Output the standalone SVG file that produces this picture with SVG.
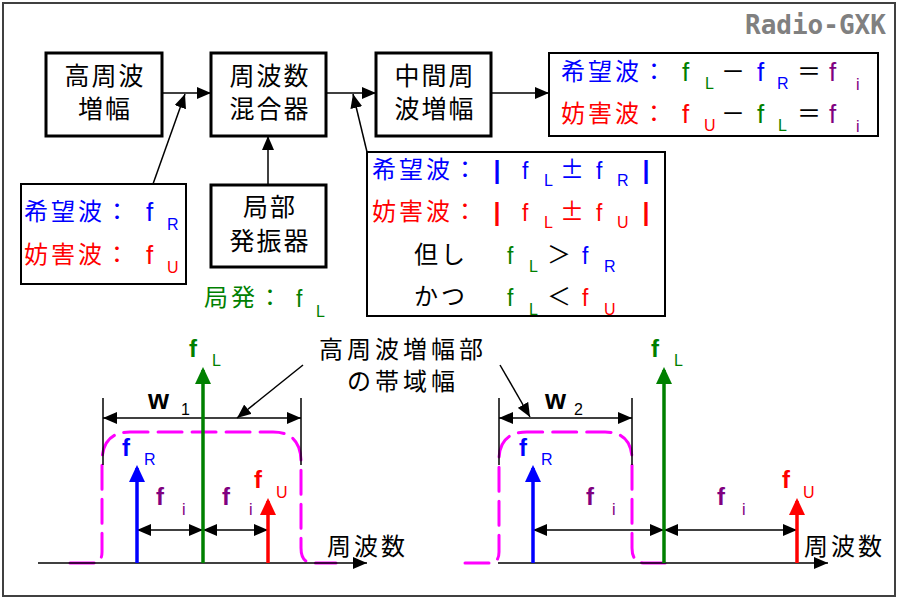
<svg xmlns="http://www.w3.org/2000/svg" width="900" height="600" viewBox="0 0 900 600">
<defs>
<style>
.jp{font-family:"Noto Sans CJK JP","Noto Sans CJK SC",sans-serif;font-size:24px;letter-spacing:3px}
.blk{font-family:"Noto Sans CJK JP","Noto Sans CJK SC",sans-serif;font-size:25px;letter-spacing:2px;text-anchor:middle;fill:#000}
.lbl{font-family:"Noto Sans CJK JP","Noto Sans CJK SC",sans-serif;font-size:24px;letter-spacing:4px;text-anchor:middle;fill:#000}
.f{font-family:"Liberation Sans",Arial,sans-serif;font-size:26px}
.fs{font-family:"Liberation Sans",Arial,sans-serif;font-size:23px}
.s{font-family:"Liberation Sans",Arial,sans-serif;font-size:16px}
.fb{font-family:"Liberation Sans",Arial,sans-serif;font-size:24px;font-weight:bold}
.sym{font-family:"Noto Sans CJK JP","Noto Sans CJK SC",sans-serif;font-size:24px;text-anchor:middle}
.bar{font-family:"Liberation Sans",Arial,sans-serif;font-size:25px;font-weight:bold;text-anchor:middle}
.b{fill:#0000ff}.r{fill:#ff0000}.g{fill:#008000}.p{fill:#800080}.k{fill:#000}
.box{fill:#fff;stroke:#000;stroke-width:3}
.ibox{fill:#fff;stroke:#000;stroke-width:2}
.con{stroke:#000;stroke-width:1.5;fill:none}
.ax{stroke:#000;stroke-width:1.5;fill:none}
.tick{stroke:#000;stroke-width:1.5}
.band{fill:none;stroke:#ff00ff;stroke-width:3;stroke-dasharray:24 10;stroke-linecap:round}
.sig{stroke-width:3.5;fill:none}
</style>
<marker id="ah" markerUnits="userSpaceOnUse" markerWidth="14" markerHeight="12" refX="14" refY="6" orient="auto-start-reverse"><path d="M0,0 L14,6 L0,12 z" fill="#000"/></marker>
<marker id="ahB" markerUnits="userSpaceOnUse" markerWidth="17" markerHeight="16" refX="14" refY="8" orient="auto"><path d="M0,0 L17,8 L0,16 z" fill="#0000ff"/></marker>
<marker id="ahG" markerUnits="userSpaceOnUse" markerWidth="17" markerHeight="16" refX="14" refY="8" orient="auto"><path d="M0,0 L17,8 L0,16 z" fill="#008000"/></marker>
<marker id="ahR" markerUnits="userSpaceOnUse" markerWidth="17" markerHeight="16" refX="14" refY="8" orient="auto"><path d="M0,0 L17,8 L0,16 z" fill="#ff0000"/></marker>
</defs>

<rect x="3" y="3" width="892" height="593" fill="#fff" stroke="#404040" stroke-width="2"/>
<text x="745" y="34" style="font-family:'DejaVu Sans Mono',monospace;font-size:26px;font-weight:bold;fill:#808080">Radio-GXK</text>

<g id="connectors">
<line class="con" x1="162" y1="93" x2="211" y2="93" marker-end="url(#ah)"/>
<line class="con" x1="326" y1="93" x2="376" y2="93" marker-end="url(#ah)"/>
<line class="con" x1="491" y1="93" x2="549" y2="93" marker-end="url(#ah)"/>
<line class="con" x1="153" y1="184" x2="185" y2="94" marker-end="url(#ah)"/>
<line class="con" x1="268" y1="184" x2="268" y2="136" marker-end="url(#ah)"/>
<line class="con" x1="367" y1="152" x2="353" y2="94" marker-end="url(#ah)"/>
</g>

<g id="rf-amp"><rect class="box" x="46" y="53" width="116" height="83"/>
<text class="blk" x="105" y="85">高周波</text><text class="blk" x="105" y="118">増幅</text></g>
<g id="mixer"><rect class="box" x="211" y="53" width="115" height="83"/>
<text class="blk" x="270" y="85">周波数</text><text class="blk" x="270" y="118">混合器</text></g>
<g id="if-amp"><rect class="box" x="376" y="53" width="115" height="83"/>
<text class="blk" x="435" y="85">中間周</text><text class="blk" x="435" y="118">波増幅</text></g>
<g id="local-osc"><rect class="box" x="211" y="185" width="115" height="82"/>
<text class="blk" x="270" y="216">局部</text><text class="blk" x="270" y="250">発振器</text></g>

<g id="result">
<rect class="ibox" x="549" y="53" width="329" height="83"/>
<text class="jp b" x="561" y="80">希望波：</text>
<text class="f g" x="682" y="81">f</text><text class="s g" x="705" y="89">L</text>
<text class="sym k" x="733" y="80">－</text>
<text class="f b" x="757" y="81">f</text><text class="s b" x="777" y="89">R</text>
<text class="sym k" x="809" y="80">＝</text>
<text class="f p" x="829" y="81">f</text><text class="s p" x="856" y="90">i</text>
<text class="jp r" x="561" y="122">妨害波：</text>
<text class="f r" x="682" y="123">f</text><text class="s r" x="704" y="131">U</text>
<text class="sym k" x="733" y="122">－</text>
<text class="f g" x="757" y="123">f</text><text class="s g" x="778" y="131">L</text>
<text class="sym k" x="809" y="122">＝</text>
<text class="f p" x="829" y="123">f</text><text class="s p" x="856" y="132">i</text>
</g>

<g id="rf-input">
<rect class="ibox" x="21" y="184" width="165" height="100"/>
<text class="jp b" x="24" y="220">希望波：</text>
<text class="f b" x="146" y="221">f</text><text class="s b" x="167" y="230">R</text>
<text class="jp r" x="24" y="263">妨害波：</text>
<text class="f r" x="146" y="264">f</text><text class="s r" x="167" y="273">U</text>
</g>

<g id="lo-label">
<text class="jp g" x="204" y="306">局発：</text>
<text class="fs g" x="296" y="307">f</text><text class="s g" x="316" y="317">L</text>
</g>

<g id="conditions">
<rect class="ibox" x="367" y="152" width="298" height="164"/>
<text class="jp b" x="372" y="178">希望波：</text>
<text class="bar b" x="497" y="179">|</text>
<text class="fs b" x="522" y="179">f</text><text class="s b" x="544" y="186">L</text>
<text class="sym b" x="572" y="178">±</text>
<text class="fs b" x="596" y="179">f</text><text class="s b" x="617" y="186">R</text>
<text class="bar b" x="646" y="179">|</text>
<text class="jp r" x="372" y="220">妨害波：</text>
<text class="bar r" x="497" y="221">|</text>
<text class="fs r" x="522" y="221">f</text><text class="s r" x="544" y="228">L</text>
<text class="sym r" x="572" y="220">±</text>
<text class="fs r" x="596" y="221">f</text><text class="s r" x="617" y="228">U</text>
<text class="bar r" x="646" y="221">|</text>
<text class="jp k" x="414" y="263">但し</text>
<text class="fs g" x="507" y="264">f</text><text class="s g" x="529" y="272">L</text>
<text class="sym k" x="559" y="263">＞</text>
<text class="fs b" x="582" y="264">f</text><text class="s b" x="604" y="272">R</text>
<text class="jp k" x="414" y="305">かつ</text>
<text class="fs g" x="507" y="306">f</text><text class="s g" x="529" y="315">L</text>
<text class="sym k" x="559" y="305">＜</text>
<text class="fs r" x="582" y="306">f</text><text class="s r" x="604" y="315">U</text>
</g>

<g id="bw-label">
<text class="lbl" x="403" y="358">高周波増幅部</text>
<text class="lbl" x="403" y="390">の帯域幅</text>
<line class="con" x1="303" y1="365" x2="237" y2="418" marker-end="url(#ah)"/>
<line class="con" x1="500" y1="365" x2="530" y2="417" marker-end="url(#ah)"/>
</g>

<g id="spectrum1">
<path class="band" d="M70,563 H93 Q102,563 102,552 V462 Q102,432 130,432 H273 Q301,432 301,462 V548 Q301,563 313,563 H336"/>
<line class="ax" x1="38" y1="563" x2="367" y2="563" marker-end="url(#ah)"/>
<line class="tick" x1="103" y1="398" x2="103" y2="465"/>
<line class="tick" x1="301" y1="398" x2="301" y2="465"/>
<line class="ax" x1="103" y1="418" x2="301" y2="418" marker-start="url(#ah)" marker-end="url(#ah)"/>
<line class="ax" x1="137" y1="530" x2="203" y2="530" marker-start="url(#ah)" marker-end="url(#ah)"/>
<line class="ax" x1="203" y1="530" x2="268" y2="530" marker-start="url(#ah)" marker-end="url(#ah)"/>
<line class="sig" stroke="#0000ff" x1="137" y1="563" x2="137" y2="468" marker-end="url(#ahB)"/>
<line class="sig" stroke="#008000" x1="203" y1="563" x2="203" y2="370" marker-end="url(#ahG)"/>
<line class="sig" stroke="#ff0000" x1="268" y1="563" x2="268" y2="501" marker-end="url(#ahR)"/>
<text class="fb g" x="189" y="357">f</text><text class="s g" x="212" y="366">L</text>
<text class="fb b" x="122" y="456">f</text><text class="s b" x="144" y="465">R</text>
<text class="fb p" x="156" y="505">f</text><text class="s p" x="182" y="515">i</text>
<text class="fb p" x="222" y="505">f</text><text class="s p" x="249" y="515">i</text>
<text class="fb r" x="254" y="488">f</text><text class="s r" x="276" y="498">U</text>
<text class="fb k" x="148" y="409" style="font-size:27px">w</text><text class="s k" x="181" y="415">1</text>
<text class="jp k" x="327" y="555">周波数</text>
</g>

<g id="spectrum2">
<path class="band" d="M465,563 H490 Q499,563 499,552 V460 Q499,432 527,432 H605 Q632,432 632,460 V548 Q632,563 645,563 H665"/>
<line class="ax" x1="498" y1="563" x2="828" y2="563" marker-end="url(#ah)"/>
<line class="tick" x1="499" y1="398" x2="499" y2="465"/>
<line class="tick" x1="632" y1="398" x2="632" y2="465"/>
<line class="ax" x1="499" y1="418" x2="632" y2="418" marker-start="url(#ah)" marker-end="url(#ah)"/>
<line class="ax" x1="533" y1="530" x2="664" y2="530" marker-start="url(#ah)" marker-end="url(#ah)"/>
<line class="ax" x1="664" y1="530" x2="797" y2="530" marker-start="url(#ah)" marker-end="url(#ah)"/>
<line class="sig" stroke="#0000ff" x1="533" y1="563" x2="533" y2="468" marker-end="url(#ahB)"/>
<line class="sig" stroke="#008000" x1="664" y1="563" x2="664" y2="370" marker-end="url(#ahG)"/>
<line class="sig" stroke="#ff0000" x1="797" y1="563" x2="797" y2="501" marker-end="url(#ahR)"/>
<text class="fb g" x="651" y="357">f</text><text class="s g" x="674" y="366">L</text>
<text class="fb b" x="519" y="456">f</text><text class="s b" x="541" y="465">R</text>
<text class="fb p" x="586" y="505">f</text><text class="s p" x="612" y="515">i</text>
<text class="fb p" x="717" y="505">f</text><text class="s p" x="742" y="515">i</text>
<text class="fb r" x="782" y="488">f</text><text class="s r" x="803" y="498">U</text>
<text class="fb k" x="545" y="409" style="font-size:27px">w</text><text class="s k" x="574" y="415">2</text>
<text class="jp k" x="804" y="555">周波数</text>
</g>
</svg>
